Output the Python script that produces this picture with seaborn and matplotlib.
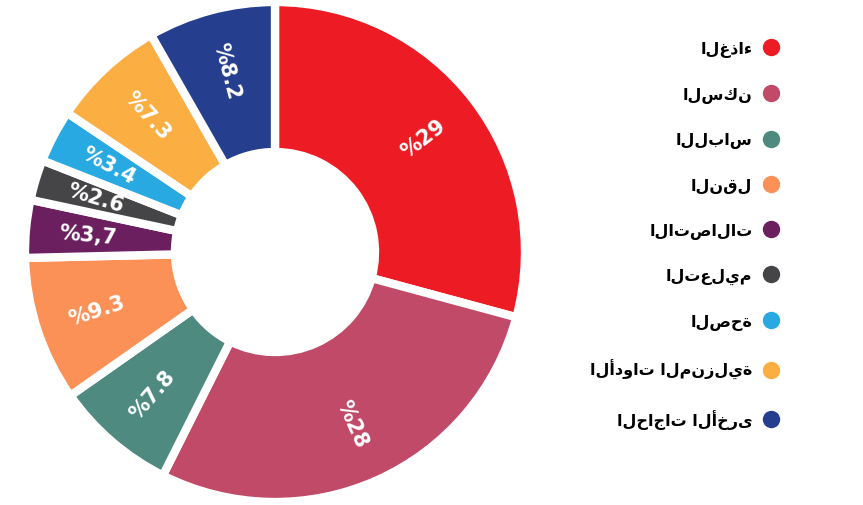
import numpy as np
import matplotlib
matplotlib.use('Agg')
import matplotlib.pyplot as plt
from matplotlib.lines import Line2D
import seaborn as sns

# بيانات توزيع الانفاق
categories = ['الغذاء', 'السكن', 'اللباس', 'النقل', 'الاتصالات', 'التعليم',
              'الصحة', 'الأدوات المنزلية', 'الحاجات الأخرى']
shares = [29, 28, 7.8, 9.3, 3.7, 2.6, 3.4, 7.3, 8.2]
share_labels = ['%29', '%28', '%7.8', '%9.3', '%3,7', '%2.6', '%3.4', '%7.3', '%8.2']
colors = ['#ED1C24', '#C04A68', '#4E8A80', '#FC9157', '#6B1F5F', '#454547',
          '#29A9E1', '#FBAE42', '#253F8E']

sns.set_theme(style='white')
plt.rcParams['font.family'] = ['DejaVu Sans']
palette = sns.color_palette(colors)

fig = plt.figure(figsize=(8.63, 5.06), dpi=100)
ax = fig.add_axes([25 / 863, 3 / 506, 500 / 863, 500 / 506])
wedges, _ = ax.pie(shares, colors=palette, startangle=90, counterclock=False,
                   wedgeprops=dict(width=0.6, edgecolor='white', linewidth=6))

# النسب داخل الحلقة مع تدوير شعاعي
for w, lab in zip(wedges, share_labels):
    ang = (w.theta1 + w.theta2) / 2
    ang = (ang + 180) % 360 - 180
    rot = ang if -90 <= ang <= 90 else ang - 180
    x = 0.75 * np.cos(np.deg2rad(ang))
    y = 0.75 * np.sin(np.deg2rad(ang))
    ax.text(x, y, lab, color='white', fontsize=15, fontweight='bold',
            rotation=rot, rotation_mode='anchor', ha='center', va='center')
ax.set_xlim(-1.0, 1.0)
ax.set_ylim(-1.0, 1.0)
ax.set_aspect('equal')
ax.axis('off')

handles = [Line2D([], [], marker='o', linestyle='', markersize=11.5,
                  markerfacecolor=c, markeredgecolor=c) for c in palette]
fig.legend(handles, categories, loc='upper right',
           bbox_to_anchor=(779 / 863, 1 - 42 / 506), markerfirst=False,
           frameon=False, prop={'weight': 'bold', 'size': 11.5},
           labelcolor='black',
           labelspacing=1.85, handlelength=1.0, handletextpad=0.66,
           borderpad=0, borderaxespad=0)

fig.savefig('out.png', dpi=100, facecolor='white')
